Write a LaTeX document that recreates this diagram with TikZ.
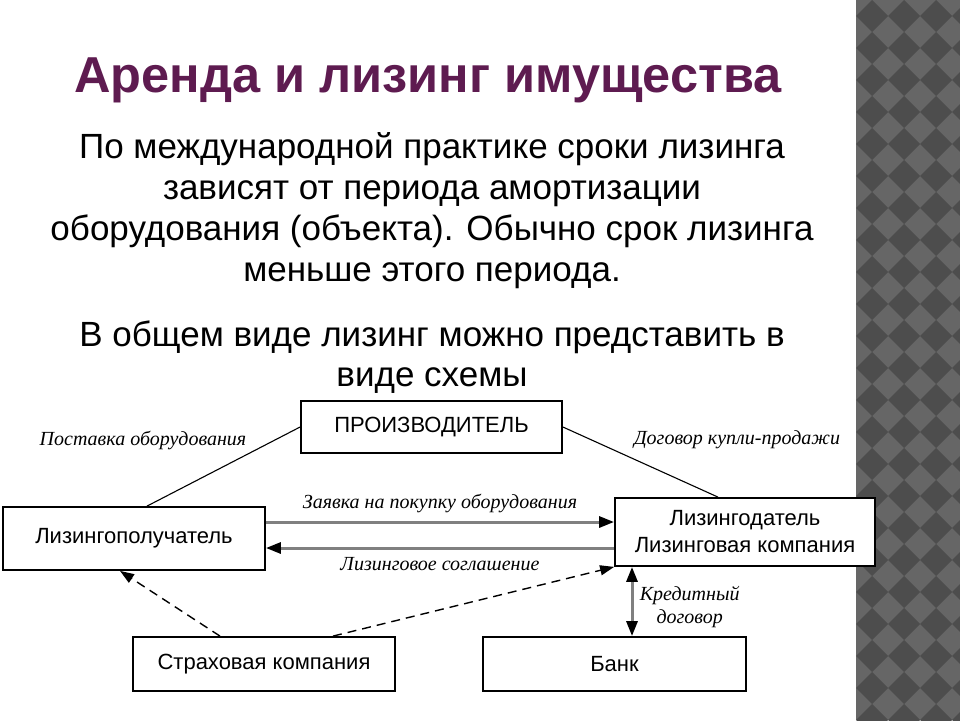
\documentclass[tikz,border=0pt]{standalone}
\usepackage{fontspec}
\setmainfont{Liberation Serif}
\setsansfont{Liberation Sans}
\usetikzlibrary{arrows.meta,positioning}

\definecolor{plum}{RGB}{94,27,80}
\definecolor{tile light}{RGB}{102,102,102}
\definecolor{tile dark}{RGB}{77,77,77}
\definecolor{flow gray}{RGB}{128,128,128}

\tikzstyle{firm}=[
    draw = black,
    line width = 1.8pt,
    fill = white,
    inner sep = 0pt,
    minimum width = 262pt,
    minimum height = 54pt,
    align = center,
    font = \sffamily\fontsize{22}{27}\selectfont
]

\begin{document}
\begin{tikzpicture}[x=1pt, y=-1pt,
    note/.style = {font=\itshape\fontsize{20}{23}\selectfont},
    link/.style = {draw=black, line width=1.1pt},
    flow/.style = {draw=flow gray, line width=3pt, -{Triangle[length=15pt,width=11pt,color=black]}},
    both flow/.style = {draw=flow gray, line width=3pt, {Triangle[length=15pt,width=11pt,color=black]}-{Triangle[length=15pt,width=11pt,color=black]}},
    dash link/.style = {draw=black, line width=1.4pt, dash pattern=on 9pt off 6pt, -{Triangle[length=14pt,width=10pt]}}]

    \useasboundingbox (0,0) rectangle (960,720);
    \fill[white] (0,0) rectangle (960,720);

    % checkered band on the right
    \begin{scope}
        \clip (856,0) rectangle (960,720);
        \fill[tile light] (856,0) rectangle (960,720);
        \foreach \i in {-1,...,3}
            \foreach \j in {-1,...,23}
                \fill[tile dark] (872+32*\i,16+32*\j) ++(-16,0) -- ++(16,-16) -- ++(16,16) -- ++(-16,16) -- cycle;
    \end{scope}

    \node[anchor=base, text=plum, font=\sffamily\bfseries\fontsize{50.5}{60}\selectfont] (title) at (428,92) {Аренда и лизинг имущества};
    % base of a multi-line node = its last line
    \node[anchor=base, align=center, font=\sffamily\fontsize{35}{41}\selectfont] (facts) at (432,281)
        {По международной практике сроки лизинга\\зависят от периода амортизации\\оборудования (объекта). Обычно срок лизинга\\меньше этого периода.};
    \node[anchor=base, align=center, font=\sffamily\fontsize{35}{40}\selectfont] (scheme) at (432,386)
        {В общем виде лизинг можно представить в\\виде схемы};

    \node[firm, minimum width=261pt, minimum height=52pt] (maker) at (431.5,427) {ПРОИЗВОДИТЕЛЬ};
    \node[firm, minimum height=63pt] (lessee) at (134,538.5) {Лизингополучатель};
    \node[firm, minimum width=260pt, minimum height=68pt] (lessor) at (745,532) {Лизингодатель\\Лизинговая компания};
    \node[firm] (insurer) at (264,664) {Страховая компания};
    \node[firm, minimum width=263pt] (bank) at (614.5,664) {Банк};

    \draw[link] (lessee.north -| 147,0) -- (maker.west);
    \node[note] (supply) at (143,440) {Поставка оборудования};
    \draw[link] (maker.east) -- (lessor.north -| 718,0);
    \node[note] (purchase) at (737,440) {Договор купли-продажи};

    \draw[flow] (lessee.east |- 0,522) -- (lessor.west |- 0,522) node[midway, above=4pt, note] (request) {Заявка на покупку оборудования};
    \draw[flow] (lessor.west |- 0,548) -- (lessee.east |- 0,548) node[midway, below=5pt, note] (agreement) {Лизинговое соглашение};

    \draw[dash link] (insurer.north -| 220,0) -- (lessee.south -| 120,0);
    \draw[dash link] (insurer.north -| 333,0) -- (lessor.south west);

    \draw[both flow] (lessor.south -| 632,0) -- (bank.north -| 632,0) node[midway, right=3pt, yshift=-6pt, note, align=center] (credit) {Кредитный\\договор};

\end{tikzpicture}
\end{document}
